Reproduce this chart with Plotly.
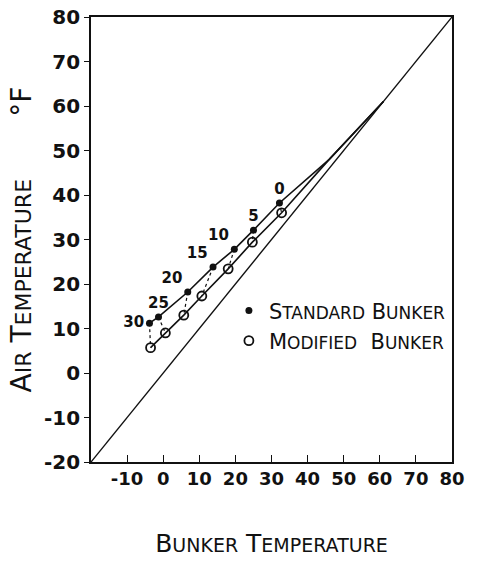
import plotly.graph_objects as go

# ---- data ----
point_labels = ["30", "25", "20", "15", "10", "5", "0"]
standard_x = [-3.8, -1.3, 6.8, 13.8, 19.7, 25.0, 32.2]
standard_y = [11.2, 12.6, 18.2, 23.8, 27.8, 32.1, 38.2]
modified_x = [-3.5, 0.6, 5.7, 10.7, 18.0, 24.7, 32.8]
modified_y = [5.7, 9.0, 13.0, 17.3, 23.4, 29.4, 36.0]
# curve continuation toward the diagonal (no markers)
tail_x = [46.0, 61.0]
tail_y = [48.0, 61.0]
diag_x = [-20, 80]
diag_y = [-20, 80]
x_ticks = [-10, 0, 10, 20, 30, 40, 50, 60, 70, 80]
y_ticks = [-20, -10, 0, 10, 20, 30, 40, 50, 60, 70, 80]
label_pos = ["middle left", "top center", "top left", "top left", "top left", "top center", "top center"]

FONT = "DejaVu Sans"
INK = "#111111"

fig = go.Figure()

# diagonal y = x
fig.add_trace(go.Scatter(x=diag_x, y=diag_y, mode="lines",
                         line=dict(color=INK, width=1.4), showlegend=False, hoverinfo="skip"))

# curves
fig.add_trace(go.Scatter(x=standard_x + tail_x, y=standard_y + tail_y, mode="lines",
                         line=dict(color=INK, width=1.6), showlegend=False, hoverinfo="skip"))
fig.add_trace(go.Scatter(x=modified_x + tail_x, y=modified_y + tail_y, mode="lines",
                         line=dict(color=INK, width=1.6), showlegend=False, hoverinfo="skip"))

# dotted connectors between paired points
for sx, sy, mx, my in zip(standard_x, standard_y, modified_x, modified_y):
    fig.add_trace(go.Scatter(x=[sx, mx], y=[sy, my], mode="lines",
                             line=dict(color=INK, width=1.2, dash="dot"),
                             showlegend=False, hoverinfo="skip"))

# markers
fig.add_trace(go.Scatter(x=standard_x, y=standard_y, mode="markers+text",
                         name="S<span style='font-size:17px'>TANDARD</span> B<span style='font-size:17px'>UNKER</span>",
                         text=point_labels, textposition=label_pos,
                         textfont=dict(family=FONT, size=15, color=INK, weight="bold"),
                         marker=dict(symbol="circle", size=7, color=INK),
                         legendgroup="a"))
fig.add_trace(go.Scatter(x=modified_x, y=modified_y, mode="markers",
                         name="M<span style='font-size:17px'>ODIFIED</span>  B<span style='font-size:17px'>UNKER</span>",
                         marker=dict(symbol="circle-open", size=9, color=INK, line=dict(width=1.8, color=INK)),
                         legendgroup="b"))

fig.update_layout(
    width=480, height=568,
    margin=dict(l=91, r=28, t=17, b=106),
    paper_bgcolor="white", plot_bgcolor="white",
    font=dict(family=FONT, color=INK),
    legend=dict(x=0.382, y=0.386, xanchor="left", yanchor="top",
                bgcolor="rgba(0,0,0,0)", tracegroupgap=0,
                font=dict(family=FONT, size=21, color=INK),
                itemwidth=30),
    xaxis=dict(range=[-20, 80], tickvals=x_ticks, ticktext=[str(v) for v in x_ticks],
               showgrid=False, zeroline=False, showline=True, linecolor=INK, linewidth=1.6,
               mirror=True, ticks="inside", ticklen=7, tickcolor=INK, tickwidth=1.4,
               automargin=False,
               tickfont=dict(family=FONT, size=18, color=INK, weight="bold"),
               title=dict(text="B<span style='font-size:19px'>UNKER</span> T<span style='font-size:19px'>EMPERATURE</span>",
                          font=dict(family=FONT, size=25, color=INK), standoff=46)),
    yaxis=dict(range=[-20, 80], tickvals=y_ticks, ticktext=[str(v) for v in y_ticks],
               showgrid=False, zeroline=False, showline=True, linecolor=INK, linewidth=1.6,
               mirror=True, ticks="outside", ticklen=5, tickcolor=INK, tickwidth=1.4,
               automargin=False,
               tickfont=dict(family=FONT, size=20, color=INK, weight="bold"),
               title=dict(text="A<span style='font-size:22px'>IR</span> T<span style='font-size:22px'>EMPERATURE</span>       °F",
                          font=dict(family=FONT, size=28, color=INK), standoff=4)),
)

fig.write_html("out.html", config={"displayModeBar": False},
               post_script="document.body.style.margin='0';document.body.style.overflow='hidden';")
